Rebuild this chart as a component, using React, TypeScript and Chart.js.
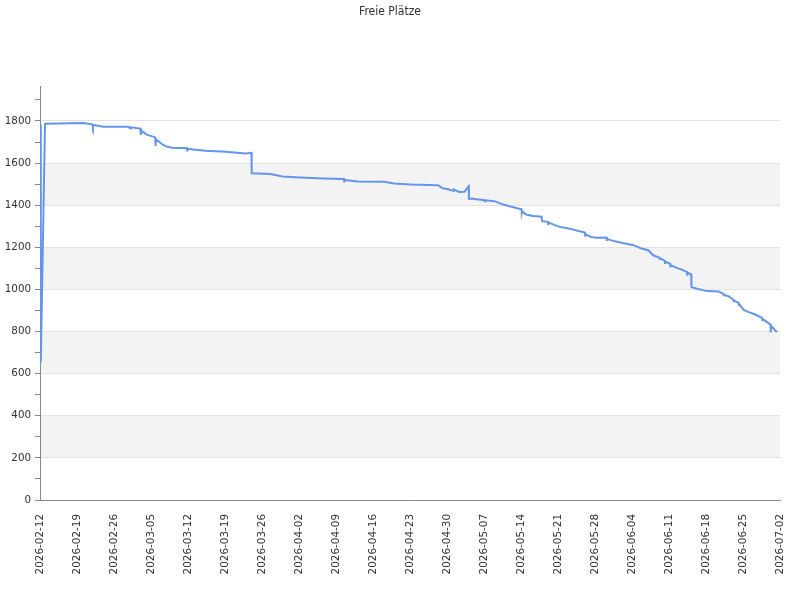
import { useEffect, useRef } from 'react';
import { Chart, registerables } from 'chart.js';

Chart.register(...registerables);

const chartTitle = 'Freie Plätze';

const dateTickLabels = [
  '2026-02-12', '2026-02-19', '2026-02-26', '2026-03-05', '2026-03-12',
  '2026-03-19', '2026-03-26', '2026-04-02', '2026-04-09', '2026-04-16',
  '2026-04-23', '2026-04-30', '2026-05-07', '2026-05-14', '2026-05-21',
  '2026-05-28', '2026-06-04', '2026-06-11', '2026-06-18', '2026-06-25',
  '2026-07-02',
];

const yTickValues = [0, 100, 200, 300, 400, 500, 600, 700, 800, 900, 1000, 1100, 1200, 1300, 1400, 1500, 1600, 1700, 1800, 1900];
const yLabelStep = 200;
const yMax = 1966;

// days since 2026-02-12
const dayOffsets = [
  0, 0.15, 0.95, 8.2, 9.1, 9.9, 10.0, 10.1, 12.0, 16.7,
  17.1, 17.2, 19.0, 19.05, 19.1, 20.2, 21.8, 21.85, 21.9, 23.3,
  24.0, 25.0, 27.8, 27.85, 27.9, 29.0, 31.3, 35.1, 38.9, 40.0,
  40.05, 43.6, 45.9, 49.3, 53.7, 57.5, 57.55, 57.6, 60.1, 65.1,
  67.0, 70.2, 75.3, 76.2, 77.2, 78.2, 78.3, 79.3, 80.3, 81.1,
  81.15, 81.8, 82.2, 84.1, 84.15, 84.2, 86.0, 87.6, 90.1, 91.1,
  91.15, 91.2, 92.0, 93.3, 94.9, 95.0, 96.1, 96.15, 96.2, 97.4,
  98.3, 99.6, 100.9, 102.1, 103.1, 103.15, 103.2, 104.3, 105.3, 107.2,
  107.25, 107.3, 108.1, 110.0, 112.3, 113.8, 115.1, 116.0, 117.2, 117.25,
  117.3, 118.2, 118.25, 118.3, 119.2, 119.25, 119.3, 120.1, 121.4, 122.4,
  122.45, 122.5, 123.2, 123.25, 124.3, 126.2, 128.4, 129.3, 129.35, 129.4,
  130.3, 131.2, 131.25, 131.3, 132.2, 132.25, 132.3, 133.1, 134.1, 135.3,
  136.6, 136.65, 136.7, 138.2, 138.25, 138.3, 139.4,
];

const freeSeats = [
  1782, 655, 1787, 1790, 1787, 1784, 1772, 1781, 1773, 1773,
  1764, 1770, 1764, 1733, 1756, 1735, 1722, 1681, 1714, 1686,
  1678, 1673, 1670, 1660, 1668, 1664, 1658, 1654, 1646, 1649,
  1552, 1548, 1536, 1532, 1527, 1524, 1513, 1520, 1513, 1511,
  1503, 1498, 1495, 1480, 1476, 1468, 1474, 1463, 1464, 1490,
  1430, 1432, 1429, 1424, 1415, 1423, 1419, 1403, 1387, 1380,
  1365, 1370, 1356, 1349, 1345, 1324, 1321, 1310, 1318, 1305,
  1297, 1292, 1284, 1276, 1270, 1255, 1262, 1249, 1245, 1246,
  1230, 1240, 1233, 1222, 1210, 1194, 1186, 1162, 1151, 1140,
  1148, 1135, 1125, 1132, 1122, 1105, 1116, 1106, 1094, 1083,
  1070, 1080, 1071, 1011, 1003, 992, 990, 979, 968, 975,
  967, 951, 940, 948, 935, 925, 930, 903, 892, 881,
  865, 850, 860, 833, 797, 828, 797,
];

const bandPlugin = {
  id: 'bands',
  beforeDraw(chart: any) {
    const { ctx, chartArea, scales } = chart;
    const y = scales.y;
    ctx.save();
    ctx.fillStyle = '#f3f3f3';
    for (let v = yLabelStep; v + yLabelStep <= 1800; v += yLabelStep * 2) {
      const top = y.getPixelForValue(v + yLabelStep);
      const bottom = y.getPixelForValue(v);
      ctx.fillRect(chartArea.left, top, chartArea.right - chartArea.left, bottom - top);
    }
    ctx.restore();
  },
};

export default function App() {
  const ref = useRef<HTMLCanvasElement>(null);

  useEffect(() => {
    if (!ref.current) return;
    const points = dayOffsets.map((d, i) => ({ x: d, y: freeSeats[i] }));
    const chart = new Chart(ref.current, {
      type: 'line',
      data: {
        datasets: [
          {
            data: points,
            borderColor: '#6495ED',
            borderWidth: 2,
            pointRadius: 0,
            tension: 0,
            fill: false,
          },
        ],
      },
      options: {
        animation: false,
        responsive: false,
        layout: { padding: { left: 0, right: 20, top: 0, bottom: 0 } },
        plugins: {
          legend: { display: false },
          tooltip: { enabled: false },
          title: {
            display: true,
            text: chartTitle,
            color: '#333',
            font: { family: "'DejaVu Sans Condensed', 'DejaVu Sans', sans-serif", size: 12, weight: 'normal' },
            padding: { top: 5, bottom: 66.6 },
          },
        },
        scales: {
          x: {
            type: 'linear',
            min: 0,
            max: (dateTickLabels.length - 1) * 7,
            afterBuildTicks: (scale: any) => {
              scale.ticks = dateTickLabels.map((_, i) => ({ value: i * 7 }));
            },
            afterFit: (scale: any) => {
              scale.height = 100;
              scale.paddingLeft = 0;
              scale.paddingRight = 0;
            },
            grid: { display: false, drawTicks: false },
            border: { display: true, color: '#888', width: 1 },
            ticks: {
              autoSkip: false,
              minRotation: 90,
              maxRotation: 90,
              padding: 14,
              color: '#333',
              font: { family: 'DejaVu Sans', size: 10.4 },
              callback: (v: any) => dateTickLabels[Math.round(Number(v) / 7)] ?? '',
            },
          },
          y: {
            type: 'linear',
            min: 0,
            max: yMax,
            afterBuildTicks: (scale: any) => {
              scale.ticks = yTickValues.map((v) => ({ value: v }));
            },
            afterFit: (scale: any) => {
              scale.width = 40;
              scale.paddingTop = 0;
              scale.paddingBottom = 0;
            },
            grid: {
              color: (c: any) => (c.tick && c.tick.value % yLabelStep === 0 ? '#e2e2e2' : 'rgba(0,0,0,0)'),
              tickColor: '#888',
              tickLength: 5,
              drawTicks: true,
            },
            border: { display: true, color: '#888', width: 1 },
            ticks: {
              autoSkip: false,
              padding: 4,
              color: '#333',
              font: { family: 'DejaVu Sans', size: 10.3 },
              callback: (v: any) => (Number(v) % yLabelStep === 0 ? String(v) : ''),
            },
          },
        },
      },
      plugins: [bandPlugin],
    });
    return () => chart.destroy();
  }, []);

  return (
    <div style={{ position: 'absolute', left: 0, top: 0, width: 800, height: 600, background: '#fff' }}>
      <canvas ref={ref} width={800} height={600} />
    </div>
  );
}
